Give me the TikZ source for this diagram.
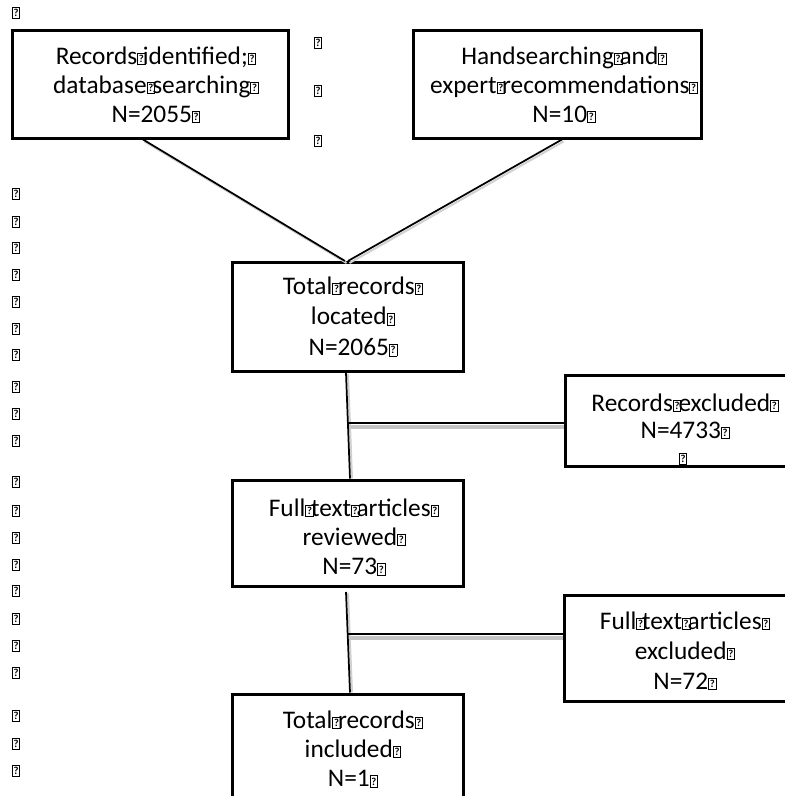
\documentclass[tikz,border=0pt]{standalone}
\usepackage{fontspec}
\setmainfont{Carlito}
\usetikzlibrary{calc}
\definecolor{shadegray}{HTML}{C4C4C4}
\newcommand{\qb}{{\setlength{\fboxsep}{0pt}\setlength{\fboxrule}{0.65pt}\fbox{\makebox[5pt]{\rule{0pt}{8pt}\raisebox{1.2pt}{\fontsize{8}{8}\selectfont\bfseries ?}}}}}
\newcommand{\qs}{\makebox[4.2pt][l]{\qb}}
\begin{document}
\begin{tikzpicture}[x=0.75pt,y=-0.75pt,
  box/.style={draw, line width=2.25pt, inner sep=0pt},
  openbox/.style={inner sep=0pt, outer sep=1.125pt},
  boxline/.style={line width=2.25pt, line join=miter},
  txt/.style={align=center, inner sep=0pt, font=\fontsize{19}{22}\selectfont},
  qmark/.style={inner sep=0pt},
  conn/.style={line width=1.3pt},
  shadeline/.style={line width=3pt, shadegray},
  softshade/.style={line width=1.5pt, black!18}]
\useasboundingbox (0,0) rectangle (785,796);
\coordinate (pageR) at (784.6,0);

% boxes
\node[box, minimum width={276*0.75pt}, minimum height={108*0.75pt}] (b1) at (150,84) {};
\node[box, minimum width={288*0.75pt}, minimum height={108*0.75pt}] (b2) at (557.5,84) {};
\node[box, minimum width={231.5*0.75pt}, minimum height={109*0.75pt}] (tot) at (348,317) {};
\node[openbox, minimum width={240*0.75pt}, minimum height={91*0.75pt}] (ex1) at (685,421) {};
\node[box, minimum width={231.5*0.75pt}, minimum height={106.5*0.75pt}] (ft) at (348,533.25) {};
\node[openbox, minimum width={242*0.75pt}, minimum height={106*0.75pt}] (ex2) at (685,648.5) {};
\node[box, minimum width={231.5*0.75pt}, minimum height={109*0.75pt}] (inc) at (348,748.5) {};
% the two right-hand boxes run off the page: only three sides show
\draw[boxline] ($(ex1.north west -| pageR)+(0,1.5)$) -- ($(ex1.north west)+(1.5,1.5)$) -- ($(ex1.south west)+(1.5,-1.5)$) -- ($(ex1.south west -| pageR)+(0,-1.5)$);
\draw[boxline] ($(ex2.north west -| pageR)+(0,1.5)$) -- ($(ex2.north west)+(1.5,1.5)$) -- ($(ex2.south west)+(1.5,-1.5)$) -- ($(ex2.south west -| pageR)+(0,-1.5)$);

% texts
\node[txt, font=\fontsize{19}{21.75}\selectfont] (t1) at (156,85) {Records\qs identified;\qb\\database\qs searching\qb\\N=2055\qb};
\node[txt, font=\fontsize{19}{21.75}\selectfont] (t2) at (564,85) {Handsearching\qs and\qb\\expert\qs recommendations\qb\\N=10\qb};
\node[txt, font=\fontsize{19}{23}\selectfont] (t3) at (353,316.5) {Total\qs records\qb\\located\qb\\N=2065\qb};
\node[txt, font=\fontsize{19}{20.25}\selectfont] (t4) at (685,416.5) {Records\qs excluded\qb\\N=4733\qb};
\begin{scope}
  \clip (566,377) rectangle (784,464.5);
  \node[qmark] (t4b) at (683,459) {\qb};
\end{scope}
\node[txt] (t5) at (354,537) {Full\qs text\qs articles\qb\\reviewed\qb\\N=73\qb};
\node[txt, font=\fontsize{19}{22.5}\selectfont] (t6) at (685,650.7) {Full\qs text\qs articles\qb\\excluded\qb\\N=72\qb};
\node[txt] (t7) at (353,749) {Total\qs records\qb\\included\qb\\N=1\qb};

% stray paragraph marks
\node[qmark] (q0) at (16,13) {\qb};
\node[qmark] (m1) at (318,43) {\qb};
\node[qmark] (m2) at (318,91) {\qb};
\node[qmark] (m3) at (318,141) {\qb};
\foreach \yy [count=\i] in {194,222,248,275,302,329,355,387,414,441,482,511,538,565,591,619,646,673,716,744,771}
  \node[qmark] (q\i) at (16,\yy) {\qb};

% connector geometry
\path ($(tot.south)+(-2,0)$) -- ($(ft.north)+(2,0)$) coordinate[pos=0.474] (h1);
\path ($(ft.south)+(-2,4)$) -- ($(inc.north)+(2,0)$) coordinate[pos=0.42] (h2);

% shadows
\draw[softshade] ($(b1.south)+(-5.5,2)$) -- ($(tot.north)+(-1.5,2)$);
\draw[softshade] ($(b2.south)+(6,2)$) -- ($(tot.north)+(1.5,2)$);
\draw[softshade] ($(tot.south)+(0,1)$) -- ($(ft.north)+(4,0)$);
\draw[softshade] ($(ft.south)+(0,5)$) -- ($(inc.north)+(4,0)$);
\draw[shadeline] ($(h1)+(-1,4)$) -- ($(h1 -| ex1.west)+(0,4)$);
\draw[shadeline] ($(h2)+(-1,4)$) -- ($(h2 -| ex2.west)+(0,4)$);

% connectors
\draw[conn] ($(b1.south)+(-7,0)$) -- ($(tot.north)+(-3,0)$);
\draw[conn] ($(b2.south)+(4.5,0)$) -- (tot.north);
\draw[conn] ($(tot.south)+(-2,0)$) -- ($(ft.north)+(2,0)$);
\draw[conn] ($(ft.south)+(-2,4)$) -- ($(inc.north)+(2,0)$);
\draw[conn] (h1) -- (h1 -| ex1.west);
\draw[conn] (h2) -- (h2 -| ex2.west);
\end{tikzpicture}
\end{document}
